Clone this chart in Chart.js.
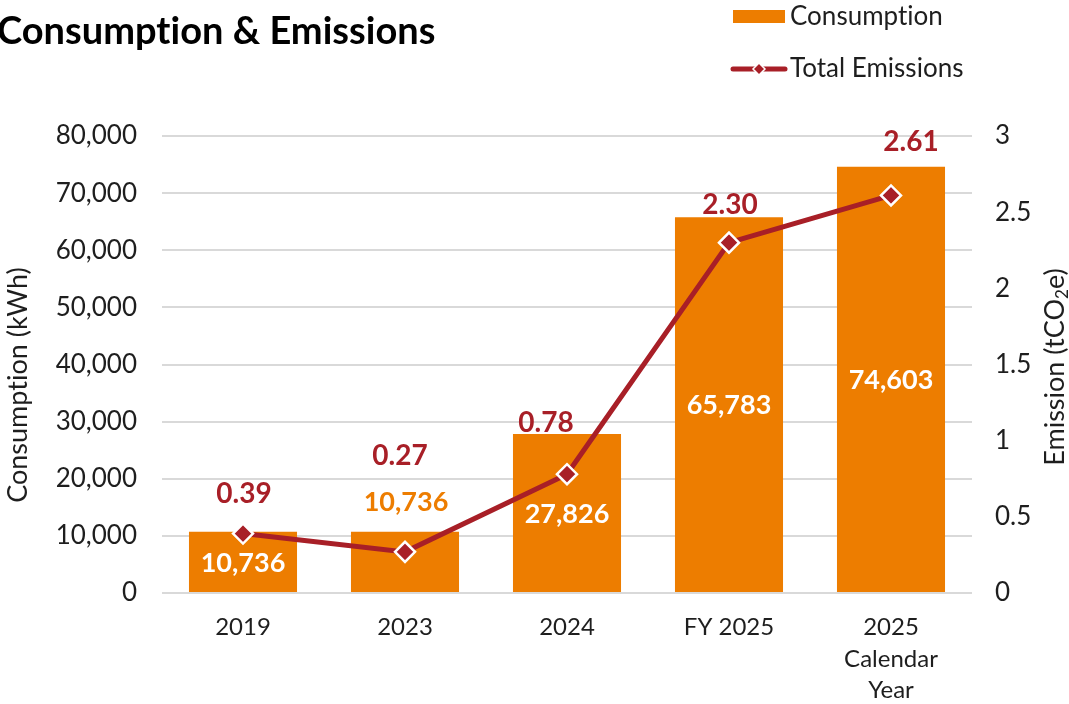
<!DOCTYPE html>
<html>
<head>
<meta charset="utf-8">
<title>Consumption & Emissions</title>
<script src="https://cdn.jsdelivr.net/npm/chart.js@4.4.1/dist/chart.umd.min.js"></script>
<style>
  body { margin: 0; background: #fff; }
  #wrap { position: relative; width: 1069px; height: 704px; overflow: hidden; }
</style>
</head>
<body>
<div id="wrap"><canvas id="chart" width="1069" height="704"></canvas></div>
<script>
const categories = ['2019', '2023', '2024', 'FY 2025', ['2025', 'Calendar', 'Year']];
const consumption = [10736, 10736, 27826, 65783, 74603];   // kWh
const emissions = [0.39, 0.27, 0.78, 2.30, 2.61];           // tCO2e

const ORANGE = '#ED7D00';
const RED = '#A81F27';
const TEXT = '#1e1e1e';
const FONT = 'Lato, "Open Sans", sans-serif';

// nudges for the value labels (px), as they were laid out by hand
const emissionLabelShift = [[1, -40], [-5, -96], [-21, -51], [1, -38], [20, -53]];
const barLabelAbove = [false, true, false, false, false];

const fmt = v => v.toLocaleString('en-US');

const labelPlugin = {
  id: 'valueLabels',
  // emission labels go under the bars (the 2024 bar clips its label)
  beforeDatasetsDraw(chart) {
    const ctx = chart.ctx;
    const meta = chart.getDatasetMeta(1);
    ctx.save();
    ctx.font = 'bold 28px ' + FONT;
    ctx.fillStyle = RED;
    ctx.textAlign = 'center';
    ctx.textBaseline = 'middle';
    meta.data.forEach((pt, i) => {
      const [dx, dy] = emissionLabelShift[i];
      ctx.fillText(emissions[i].toFixed(2), pt.x + dx, pt.y + dy);
    });
    ctx.restore();
  },
  afterDatasetDraw(chart, args) {
    if (args.index !== 0) return;
    const ctx = chart.ctx;
    ctx.save();
    ctx.font = 'bold 27px ' + FONT;
    ctx.textAlign = 'center';
    ctx.textBaseline = 'middle';
    args.meta.data.forEach((bar, i) => {
      if (barLabelAbove[i]) {
        ctx.fillStyle = ORANGE;
        ctx.fillText(fmt(consumption[i]), bar.x + 1, bar.y - 29);
      } else {
        ctx.fillStyle = '#fff';
        ctx.fillText(fmt(consumption[i]), bar.x, (bar.y + bar.base) / 2 + 1);
      }
    });
    ctx.restore();
  },
  afterDraw(chart) {
    const ctx = chart.ctx;
    ctx.save();
    ctx.letterSpacing = '0.01px';   // keeps "ti" from turning into a ligature
    ctx.fillStyle = '#000';
    ctx.textBaseline = 'alphabetic';
    ctx.textAlign = 'left';
    ctx.font = 'bold 38px ' + FONT;
    ctx.fillText('Consumption & Emissions', -3, 44);

    // legend
    const ds = chart.data.datasets;
    ctx.font = '26px ' + FONT;
    ctx.fillStyle = TEXT;
    ctx.textBaseline = 'middle';
    ctx.fillText(ds[0].label, 790, 17);
    ctx.fillText(ds[1].label, 790, 69);
    ctx.fillStyle = ds[0].backgroundColor;
    ctx.fillRect(733, 10, 52, 13);
    ctx.strokeStyle = ds[1].borderColor;
    ctx.lineWidth = 5;
    ctx.lineCap = 'round';
    ctx.beginPath();
    ctx.moveTo(733, 69);
    ctx.lineTo(785, 69);
    ctx.stroke();
    ctx.beginPath();
    ctx.moveTo(759, 63); ctx.lineTo(765, 69); ctx.lineTo(759, 75); ctx.lineTo(753, 69);
    ctx.closePath();
    ctx.fillStyle = RED;
    ctx.fill();
    ctx.strokeStyle = '#fff';
    ctx.lineWidth = 1.5;
    ctx.stroke();

    // axis titles, both reading bottom to top
    ctx.fillStyle = TEXT;
    ctx.font = '27px ' + FONT;
    ctx.textAlign = 'center';
    ctx.save();
    ctx.translate(18, 385);
    ctx.rotate(-Math.PI / 2);
    ctx.fillText('Consumption (kWh)', 0, 0);
    ctx.restore();

    ctx.save();
    ctx.translate(1055, 367);
    ctx.rotate(-Math.PI / 2);
    const a = 'Emission (tCO', b = '2', c = 'e)';
    ctx.font = '27px ' + FONT;
    const wa = ctx.measureText(a).width, wc = ctx.measureText(c).width;
    ctx.font = '17px ' + FONT;
    const wb = ctx.measureText(b).width;
    let x = -(wa + wb + wc) / 2;
    ctx.textAlign = 'left';
    ctx.font = '27px ' + FONT;
    ctx.fillText(a, x, 0);
    ctx.font = '17px ' + FONT;
    ctx.fillText(b, x + wa, 8);
    ctx.font = '27px ' + FONT;
    ctx.fillText(c, x + wa + wb, 0);
    ctx.restore();
    ctx.restore();
  }
};

new Chart(document.getElementById('chart'), {
  type: 'bar',
  data: {
    labels: categories,
    datasets: [
      {
        type: 'bar',
        label: 'Consumption',
        data: consumption,
        backgroundColor: ORANGE,
        yAxisID: 'y',
        categoryPercentage: 1,
        barPercentage: 0.667,
        order: 2
      },
      {
        type: 'line',
        label: 'Total Emissions',
        data: emissions,
        borderColor: RED,
        borderWidth: 5,
        backgroundColor: RED,
        pointStyle: 'rectRot',
        pointRadius: 10,
        pointBorderColor: '#fff',
        pointBorderWidth: 2.5,
        pointBackgroundColor: RED,
        yAxisID: 'y1',
        order: 1
      }
    ]
  },
  options: {
    responsive: false,
    animation: false,
    layout: { padding: { top: 136, left: 0, right: 0, bottom: 0 } },
    plugins: { legend: { display: false }, tooltip: { enabled: false } },
    scales: {
      x: {
        grid: { display: false, drawTicks: false },
        border: { display: false },
        ticks: {
          color: TEXT, padding: 19, maxRotation: 0, autoSkip: false,
          font: { family: FONT, size: 24, lineHeight: 1.3 }
        },
        afterFit(s) { s.height = 111; }
      },
      y: {
        position: 'left',
        min: 0, max: 80000,
        grid: { color: '#d9d9d9', lineWidth: 2, drawTicks: false },
        border: { display: false },
        ticks: {
          stepSize: 10000, padding: 25, color: TEXT,
          font: { family: FONT, size: 26 },
          callback: v => fmt(v)
        },
        afterFit(s) { s.width = 162; }
      },
      y1: {
        position: 'right',
        min: 0, max: 3,
        grid: { display: false, drawTicks: false },
        border: { display: false },
        ticks: {
          stepSize: 0.5, padding: 23, color: TEXT,
          font: { family: FONT, size: 26 },
          callback: v => String(v)
        },
        afterFit(s) { s.width = 97; }
      }
    }
  },
  plugins: [labelPlugin]
});
</script>
</body>
</html>
